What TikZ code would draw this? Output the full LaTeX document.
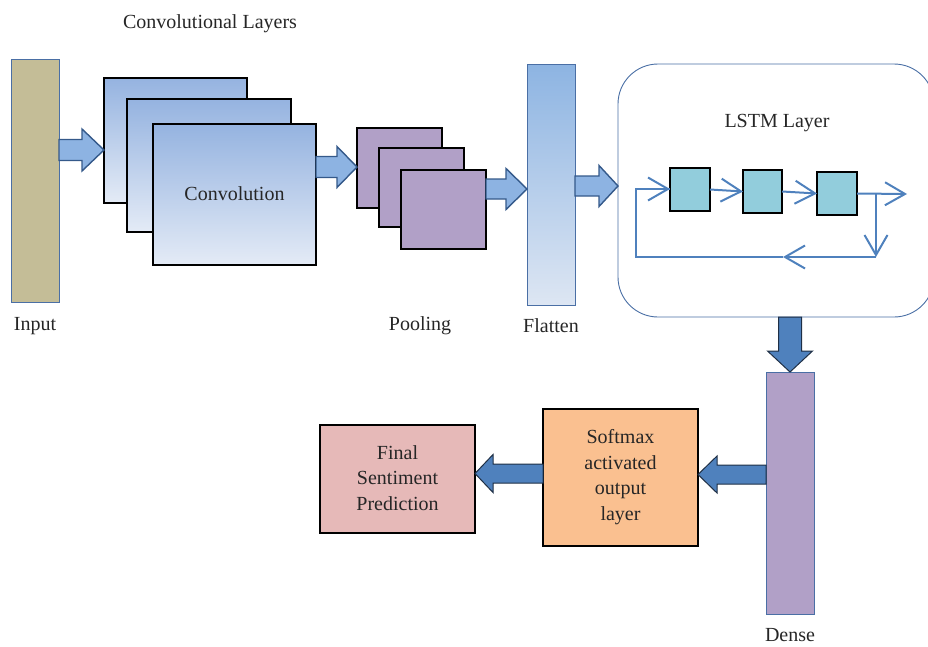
\documentclass[tikz,border=0pt]{standalone}
\usepackage{fontspec}
\setmainfont{Liberation Serif}
\usetikzlibrary{arrows.meta,calc}
\definecolor{textc}{HTML}{262626}
\definecolor{convtop}{HTML}{95B3E0}
\definecolor{convbot}{HTML}{E4EBF6}
\definecolor{flattop}{HTML}{8DB4E2}
\definecolor{flatbot}{HTML}{DDE6F3}
\definecolor{inputc}{HTML}{C4BD97}
\definecolor{purp}{HTML}{B1A0C7}
\definecolor{cellc}{HTML}{92CDDC}
\definecolor{softc}{HTML}{FAC090}
\definecolor{finalc}{HTML}{E6B9B8}
\definecolor{darkar}{HTML}{4F81BD}
\definecolor{darkbd}{HTML}{1F2F45}
\definecolor{lightar}{HTML}{8DB3E2}
\definecolor{lightbd}{HTML}{34598A}
\definecolor{bluebd}{HTML}{4A6FA5}
\definecolor{lstmln}{HTML}{4F81BD}
\newcommand\harrow[6]{\path[#6] ($(#1)+(0,#3)$) -- ($(#2)+(#5,#3)$) -- ($(#2)+(#5,#4)$) -- (#2) -- ($(#2)+(#5,-#4)$) -- ($(#2)+(#5,-#3)$) -- ($(#1)+(0,-#3)$) -- cycle;}
\newcommand\varrow[6]{\path[#6] ($(#1)+(#3,0)$) -- ($(#2)+(#3,#5)$) -- ($(#2)+(#4,#5)$) -- (#2) -- ($(#2)+(-#4,#5)$) -- ($(#2)+(-#3,#5)$) -- ($(#1)+(-#3,0)$) -- cycle;}
\tikzset{
  txt/.style={font=\fontsize{20}{25.5}\selectfont, text=textc, inner sep=0pt, align=center},
  box/.style={anchor=north west, inner sep=0pt, outer sep=0pt},
  blackbox/.style={box, draw=black, line width=1.2pt},
  bluebox/.style={box, draw=bluebd, line width=0.9pt},
  convbox/.style={blackbox, top color=convtop, bottom color=convbot},
  poolbox/.style={blackbox, fill=purp},
  cellbox/.style={blackbox, fill=cellc},
  lightarrow/.style={fill=lightar, draw=lightbd, line width=1.4pt, line join=miter},
  darkarrow/.style={fill=darkar, draw=darkbd, line width=1pt, line join=miter},
  lstmline/.style={draw=lstmln, line width=2pt},
  lstmtip/.style={-{Straight Barb[length=20pt,width=23pt]}}
}
\begin{document}
\begin{tikzpicture}[x=1pt,y=-1pt]
\useasboundingbox (0,0) rectangle (928,646);

% Input
\node[bluebox, fill=inputc, minimum width=48, minimum height=243] (input) at (11,59) {};
\node[txt] (inputlbl) at (35,326) {Input};

% Convolution layers
\node[txt] (convlbl) at (210,24) {Convolutional Layers};
\node[convbox, minimum width=143, minimum height=125] (c1) at (104,78) {};
\node[convbox, minimum width=164, minimum height=133] (c2) at (127,99) {};
\node[convbox, minimum width=163, minimum height=141] (c3) at (153,124) {};
\node[txt] (convtxt) at (234.5,194) {Convolution};

% Pooling
\node[poolbox, minimum width=85, minimum height=80] (p1) at (357,128) {};
\node[poolbox, minimum width=85, minimum height=79] (p2) at (379,148) {};
\node[poolbox, minimum width=85, minimum height=79] (p3) at (401,170) {};
\node[txt] (poollbl) at (420,326) {Pooling};

% Flatten
\node[bluebox, top color=flattop, bottom color=flatbot, minimum width=48, minimum height=241] (flat) at (527,64) {};
\node[txt] (flatlbl) at (551,326) {Flatten};

% LSTM
\node[box, draw=bluebd, line width=0.9pt, rounded corners=40pt, minimum width=316, minimum height=253] (lstm) at (618,64) {};
\node[txt] (lstmlbl) at (777,123) {LSTM Layer};
\node[cellbox, minimum width=40, minimum height=43] (l1) at (670,168) {};
\node[cellbox, minimum width=39, minimum height=43] (l2) at (743,170) {};
\node[cellbox, minimum width=40, minimum height=43] (l3) at (817,172) {};
\coordinate (outtip) at (907,194);
\coordinate (rjoin) at (876,194);
\coordinate (rbot) at (876,257);
\coordinate (midtip) at (783,257);
\coordinate (lbot) at (636,257);
\coordinate (ltop) at (636,189);
\draw[lstmline, lstmtip] (l1.east) -- (l2.west);
\draw[lstmline, lstmtip] (l2.east) -- (l3.west);
\draw[lstmline, lstmtip] (l3.east) -- (outtip);
\draw[lstmline, lstmtip] (rjoin) -- (rbot);
\draw[lstmline, lstmtip] (rbot) -- (midtip);
\draw[lstmline, line join=miter] (midtip) -- (lbot) -- (ltop) -- (l1.west |- ltop);
\draw[lstmline, lstmtip] (ltop) -- (l1.west |- ltop);

% Dense
\node[bluebox, fill=purp, minimum width=48, minimum height=242] (dense) at (766,372) {};
\node[txt] (denselbl) at (790,635) {Dense};

% Output boxes
\node[blackbox, fill=softc, minimum width=155, minimum height=137] (soft) at (543,409) {};
\node[txt] (softtxt) at (620.5,477) {Softmax\\activated\\output\\layer};
\node[blackbox, fill=finalc, minimum width=155, minimum height=108] (final) at (320,425) {};
\node[txt] (finaltxt) at (397.5,478) {Final\\Sentiment\\Prediction};

% Block arrows
\coordinate (a1s) at (input.east |- 0,150);
\coordinate (a1e) at (c1.west |- 0,150);
\harrow{a1s}{a1e}{10.5}{21}{-22}{lightarrow}
\coordinate (a2s) at (c3.east |- 0,167);
\coordinate (a2e) at (p1.west |- 0,167);
\harrow{a2s}{a2e}{10.5}{20.5}{-20}{lightarrow}
\coordinate (a3s) at (p3.east |- 0,189);
\coordinate (a3e) at (flat.west |- 0,189);
\harrow{a3s}{a3e}{10}{20.5}{-21}{lightarrow}
\coordinate (a4s) at (flat.east |- 0,186);
\coordinate (a4e) at (lstm.west |- 0,186);
\harrow{a4s}{a4e}{10}{20.5}{-19}{lightarrow}
\coordinate (a5s) at (dense.north |- lstm.south);
\varrow{a5s}{dense.north}{11.5}{22.5}{-21}{darkarrow}
\coordinate (a6s) at (dense.west |- 0,474.5);
\coordinate (a6e) at (soft.east |- 0,474.5);
\harrow{a6s}{a6e}{9.5}{18.5}{19}{darkarrow}
\coordinate (a7s) at (soft.west |- 0,473.5);
\coordinate (a7e) at (final.east |- 0,473.5);
\harrow{a7s}{a7e}{9.5}{19}{18}{darkarrow}
\end{tikzpicture}
\end{document}
